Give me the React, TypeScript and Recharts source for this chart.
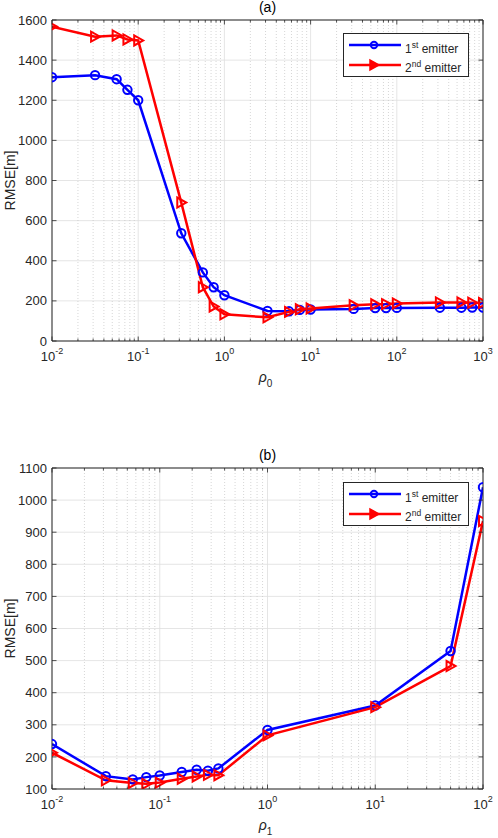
import React from 'react';
import { LineChart, Line, XAxis, YAxis, CartesianGrid, ReferenceLine, Legend, Label } from 'recharts';

// ---------- data ----------
const rho0 = [0.01, 0.0316, 0.0562, 0.075, 0.1, 0.316, 0.562, 0.75, 1, 3.16, 5.62, 7.5, 10, 31.6, 56.2, 75, 100, 316, 562, 750, 1000];
const rmseA1 = [1315, 1325, 1305, 1252, 1200, 537, 342, 268, 228, 150, 148, 155, 157, 160, 164, 164, 165, 166, 166, 167, 167];
const rmseA2 = [1567, 1517, 1523, 1503, 1498, 690, 268, 172, 133, 118, 145, 158, 162, 178, 183, 184, 187, 192, 192, 191, 190];

const rho1 = [0.01, 0.0316, 0.0562, 0.075, 0.1, 0.16, 0.22, 0.28, 0.35, 1, 10, 50, 100];
const rmseB1 = [240, 140, 130, 137, 142, 153, 160, 157, 164, 284, 360, 530, 1040];
const rmseB2 = [213, 127, 119, 116, 120, 132, 139, 144, 143, 267, 355, 483, 935];

const decadesA = [0.01, 0.1, 1, 10, 100, 1000];
const decadeLabelsA = ['-2', '-1', '0', '1', '2', '3'];
const decadesB = [0.01, 0.1, 1, 10, 100];
const decadeLabelsB = ['-2', '-1', '0', '1', '2'];
const minorMult = [2, 3, 4, 5, 6, 7, 8, 9];

const yTicksA = [0, 200, 400, 600, 800, 1000, 1200, 1400, 1600];
const yTicksB = [100, 200, 300, 400, 500, 600, 700, 800, 900, 1000, 1100];

const seriesNames: [string, string][] = [['1', 'st'], ['2', 'nd']];
const titles = ['(a)', '(b)'];
const xSubs = ['0', '1'];
const yLabel = 'RMSE[m]';

// ---------- styles ----------
const FONT = '"Liberation Sans", Arial, Helvetica, sans-serif';
const AXIS = '#262626';
const GRID = '#dedede';
const MINOR = '#c4c4c4';
const BLUE = '#0000ff';
const RED = '#ff0000';

const buildMinor = (decades: number[]) =>
  decades.slice(0, -1).flatMap((d) => minorMult.map((m) => +(m * d).toPrecision(6)));

const decadeIndex = (decades: number[], v: number) =>
  decades.findIndex((d) => Math.abs(d - v) / d < 1e-6);

const circleDot = (p: any) => {
  if (p.cx == null || p.cy == null) return <g key={p.index} />;
  return <circle key={p.index} cx={p.cx} cy={p.cy} r={4.2} fill="none" stroke={BLUE} strokeWidth={2} />;
};
const triDot = (p: any) => {
  if (p.cx == null || p.cy == null) return <g key={p.index} />;
  const { cx, cy } = p;
  return (
    <polygon
      key={p.index}
      points={`${cx - 4},${cy - 5} ${cx - 4},${cy + 5} ${cx + 5},${cy}`}
      fill="none"
      stroke={RED}
      strokeWidth={2}
      strokeLinejoin="miter"
    />
  );
};

const LegendBox = () => (
  <svg width={127} height={45} style={{ display: 'block' }}>
    <rect x={0.5} y={0.5} width={125} height={43} fill="#fff" stroke={AXIS} strokeWidth={1} />
    <line x1={6} x2={58} y1={12} y2={12} stroke={BLUE} strokeWidth={2.5} />
    <circle cx={31} cy={12} r={3.2} fill="none" stroke={BLUE} strokeWidth={2} />
    <text x={62} y={19.5} fontSize={12} fill={AXIS} fontFamily={FONT}>
      {seriesNames[0][0]}
      <tspan dy={-5} fontSize={8.5}>{seriesNames[0][1]}</tspan>
      <tspan dy={5}> emitter</tspan>
    </text>
    <line x1={6} x2={58} y1={32} y2={32} stroke={RED} strokeWidth={2.5} />
    <polygon points={`${27},${27} ${27},${37} ${36},${32}`} fill={RED} stroke={RED} strokeWidth={1.5} />
    <text x={62} y={38.5} fontSize={12} fill={AXIS} fontFamily={FONT}>
      {seriesNames[1][0]}
      <tspan dy={-5} fontSize={8.5}>{seriesNames[1][1]}</tspan>
      <tspan dy={5}> emitter</tspan>
    </text>
  </svg>
);

type PanelProps = {
  idx: number;
  xs: number[];
  y1: number[];
  y2: number[];
  decades: number[];
  decadeLabels: string[];
  yTicks: number[];
  height: number;
  marginTop: number;
  bottomH: number;
  legendTop: number;
};

function Panel({ idx, xs, y1, y2, decades, decadeLabels, yTicks, height, marginTop, bottomH, legendTop }: PanelProps) {
  const data = xs.map((x, i) => ({ x, a: y1[i], b: y2[i] }));
  const minor = buildMinor(decades);
  const allTicks = [...decades, ...minor].sort((a, b) => a - b);
  const xDomain = [decades[0], decades[decades.length - 1]];
  const yDomain = [yTicks[0], yTicks[yTicks.length - 1]];

  const xTickBottom = (p: any) => {
    const { x, y, payload } = p;
    const k = decadeIndex(decades, payload.value);
    const major = k >= 0;
    return (
      <g key={`xb${payload.value}`}>
        <line x1={x} x2={x} y1={y} y2={y - (major ? 4.5 : 2.5)} stroke={AXIS} strokeWidth={0.8} />
        {major && (
          <text x={x} y={y + 20} textAnchor="middle" fontSize={13} fill={AXIS} fontFamily={FONT}>
            10<tspan dy={-7} fontSize={9}>{decadeLabels[k]}</tspan>
          </text>
        )}
      </g>
    );
  };
  const xTickTop = (p: any) => {
    const { x, y, payload } = p;
    const major = decadeIndex(decades, payload.value) >= 0;
    return (
      <line key={`xt${payload.value}`} x1={x} x2={x} y1={y} y2={y + (major ? 4.5 : 2.5)} stroke={AXIS} strokeWidth={0.8} />
    );
  };
  const yTickLeft = (p: any) => {
    const { x, y, payload } = p;
    return (
      <g key={`yl${payload.value}`}>
        <line x1={x} x2={x + 4.5} y1={y} y2={y} stroke={AXIS} strokeWidth={0.8} />
        <text x={x - 5} y={y + 4.6} textAnchor="end" fontSize={13} fill={AXIS} fontFamily={FONT}>
          {payload.value}
        </text>
      </g>
    );
  };
  const yTickRight = (p: any) => {
    const { x, y, payload } = p;
    return <line key={`yr${payload.value}`} x1={x} x2={x - 4.5} y1={y} y2={y} stroke={AXIS} strokeWidth={0.8} />;
  };

  const xLabelContent = (p: any) => {
    const vb = p.viewBox || {};
    const cx = vb.x + vb.width / 2;
    return (
      <text x={cx - 2} y={vb.y + 41} textAnchor="middle" fontSize={14} fill={AXIS} fontFamily={FONT}>
        <tspan fontStyle="italic">ρ</tspan>
        <tspan dy={5} fontSize={10}>{xSubs[idx]}</tspan>
      </text>
    );
  };
  const titleContent = (p: any) => {
    const vb = p.viewBox || {};
    const cx = vb.x + vb.width / 2;
    return (
      <text x={cx} y={vb.y + vb.height - 8} textAnchor="middle" fontSize={14} fill="#000" fontFamily={FONT}>
        {titles[idx]}
      </text>
    );
  };
  const yLabelContent = (p: any) => {
    const vb = p.viewBox || {};
    const cy = vb.y + vb.height / 2;
    const lx = 15;
    return (
      <text x={lx} y={cy} transform={`rotate(-90, ${lx}, ${cy})`} textAnchor="middle" fontSize={14} fill={AXIS} fontFamily={FONT}>
        {yLabel}
      </text>
    );
  };

  return (
    <LineChart width={498} height={height} data={data} margin={{ top: marginTop, right: 0, bottom: 0, left: 0 }}>
      <CartesianGrid vertical={false} stroke={GRID} strokeWidth={0.8} horizontalValues={yTicks} />
      {minor.map((v) => (
        <ReferenceLine key={`m${v}`} x={v} stroke={MINOR} strokeDasharray="1 2" strokeWidth={0.7} />
      ))}
      {decades.map((v) => (
        <ReferenceLine key={`M${v}`} x={v} stroke={GRID} strokeWidth={0.8} />
      ))}
      <XAxis
        dataKey="x"
        type="number"
        scale="log"
        domain={xDomain}
        ticks={allTicks}
        interval={0}
        tickSize={0}
        tickMargin={0}
        tickLine={false}
        axisLine={{ stroke: AXIS, strokeWidth: 1 }}
        height={bottomH}
        tick={xTickBottom}
        allowDataOverflow
      >
        <Label content={xLabelContent} />
      </XAxis>
      <XAxis
        xAxisId="top"
        orientation="top"
        dataKey="x"
        type="number"
        scale="log"
        domain={xDomain}
        ticks={allTicks}
        interval={0}
        tickSize={0}
        tickMargin={0}
        tickLine={false}
        axisLine={{ stroke: AXIS, strokeWidth: 1 }}
        height={1}
        tick={xTickTop}
        allowDataOverflow
      >
        <Label content={titleContent} />
      </XAxis>
      <YAxis
        type="number"
        domain={yDomain}
        ticks={yTicks}
        interval={0}
        width={52}
        tickSize={0}
        tickMargin={0}
        tickLine={false}
        axisLine={{ stroke: AXIS, strokeWidth: 1 }}
        tick={yTickLeft}
        allowDataOverflow
      >
        <Label content={yLabelContent} />
      </YAxis>
      <YAxis
        yAxisId="r"
        orientation="right"
        type="number"
        domain={yDomain}
        ticks={yTicks}
        interval={0}
        width={15}
        tickSize={0}
        tickMargin={0}
        tickLine={false}
        axisLine={{ stroke: AXIS, strokeWidth: 1 }}
        tick={yTickRight}
        allowDataOverflow
      />
      <Line dataKey="a" stroke={BLUE} strokeWidth={2.5} dot={circleDot} activeDot={false} isAnimationActive={false} />
      <Line dataKey="b" stroke={RED} strokeWidth={2.5} dot={triDot} activeDot={false} isAnimationActive={false} />
      <Legend
        layout="horizontal"
        verticalAlign="middle"
        align="center"
        wrapperStyle={{ left: 343, top: legendTop, width: 127, height: 45 }}
        content={() => <LegendBox />}
      />
    </LineChart>
  );
}

export default function App() {
  return (
    <div style={{ position: 'absolute', left: 0, top: 0, width: 498, height: 838, background: '#fff' }}>
      <div style={{ position: 'absolute', left: 0, top: 0 }}>
        <Panel
          idx={0}
          xs={rho0}
          y1={rmseA1}
          y2={rmseA2}
          decades={decadesA}
          decadeLabels={decadeLabelsA}
          yTicks={yTicksA}
          height={420}
          marginTop={19}
          bottomH={79}
          legendTop={33}
        />
      </div>
      <div style={{ position: 'absolute', left: 0, top: 420 }}>
        <Panel
          idx={1}
          xs={rho1}
          y1={rmseB1}
          y2={rmseB2}
          decades={decadesB}
          decadeLabels={decadeLabelsB}
          yTicks={yTicksB}
          height={418}
          marginTop={47}
          bottomH={49}
          legendTop={61.5}
        />
      </div>
    </div>
  );
}
